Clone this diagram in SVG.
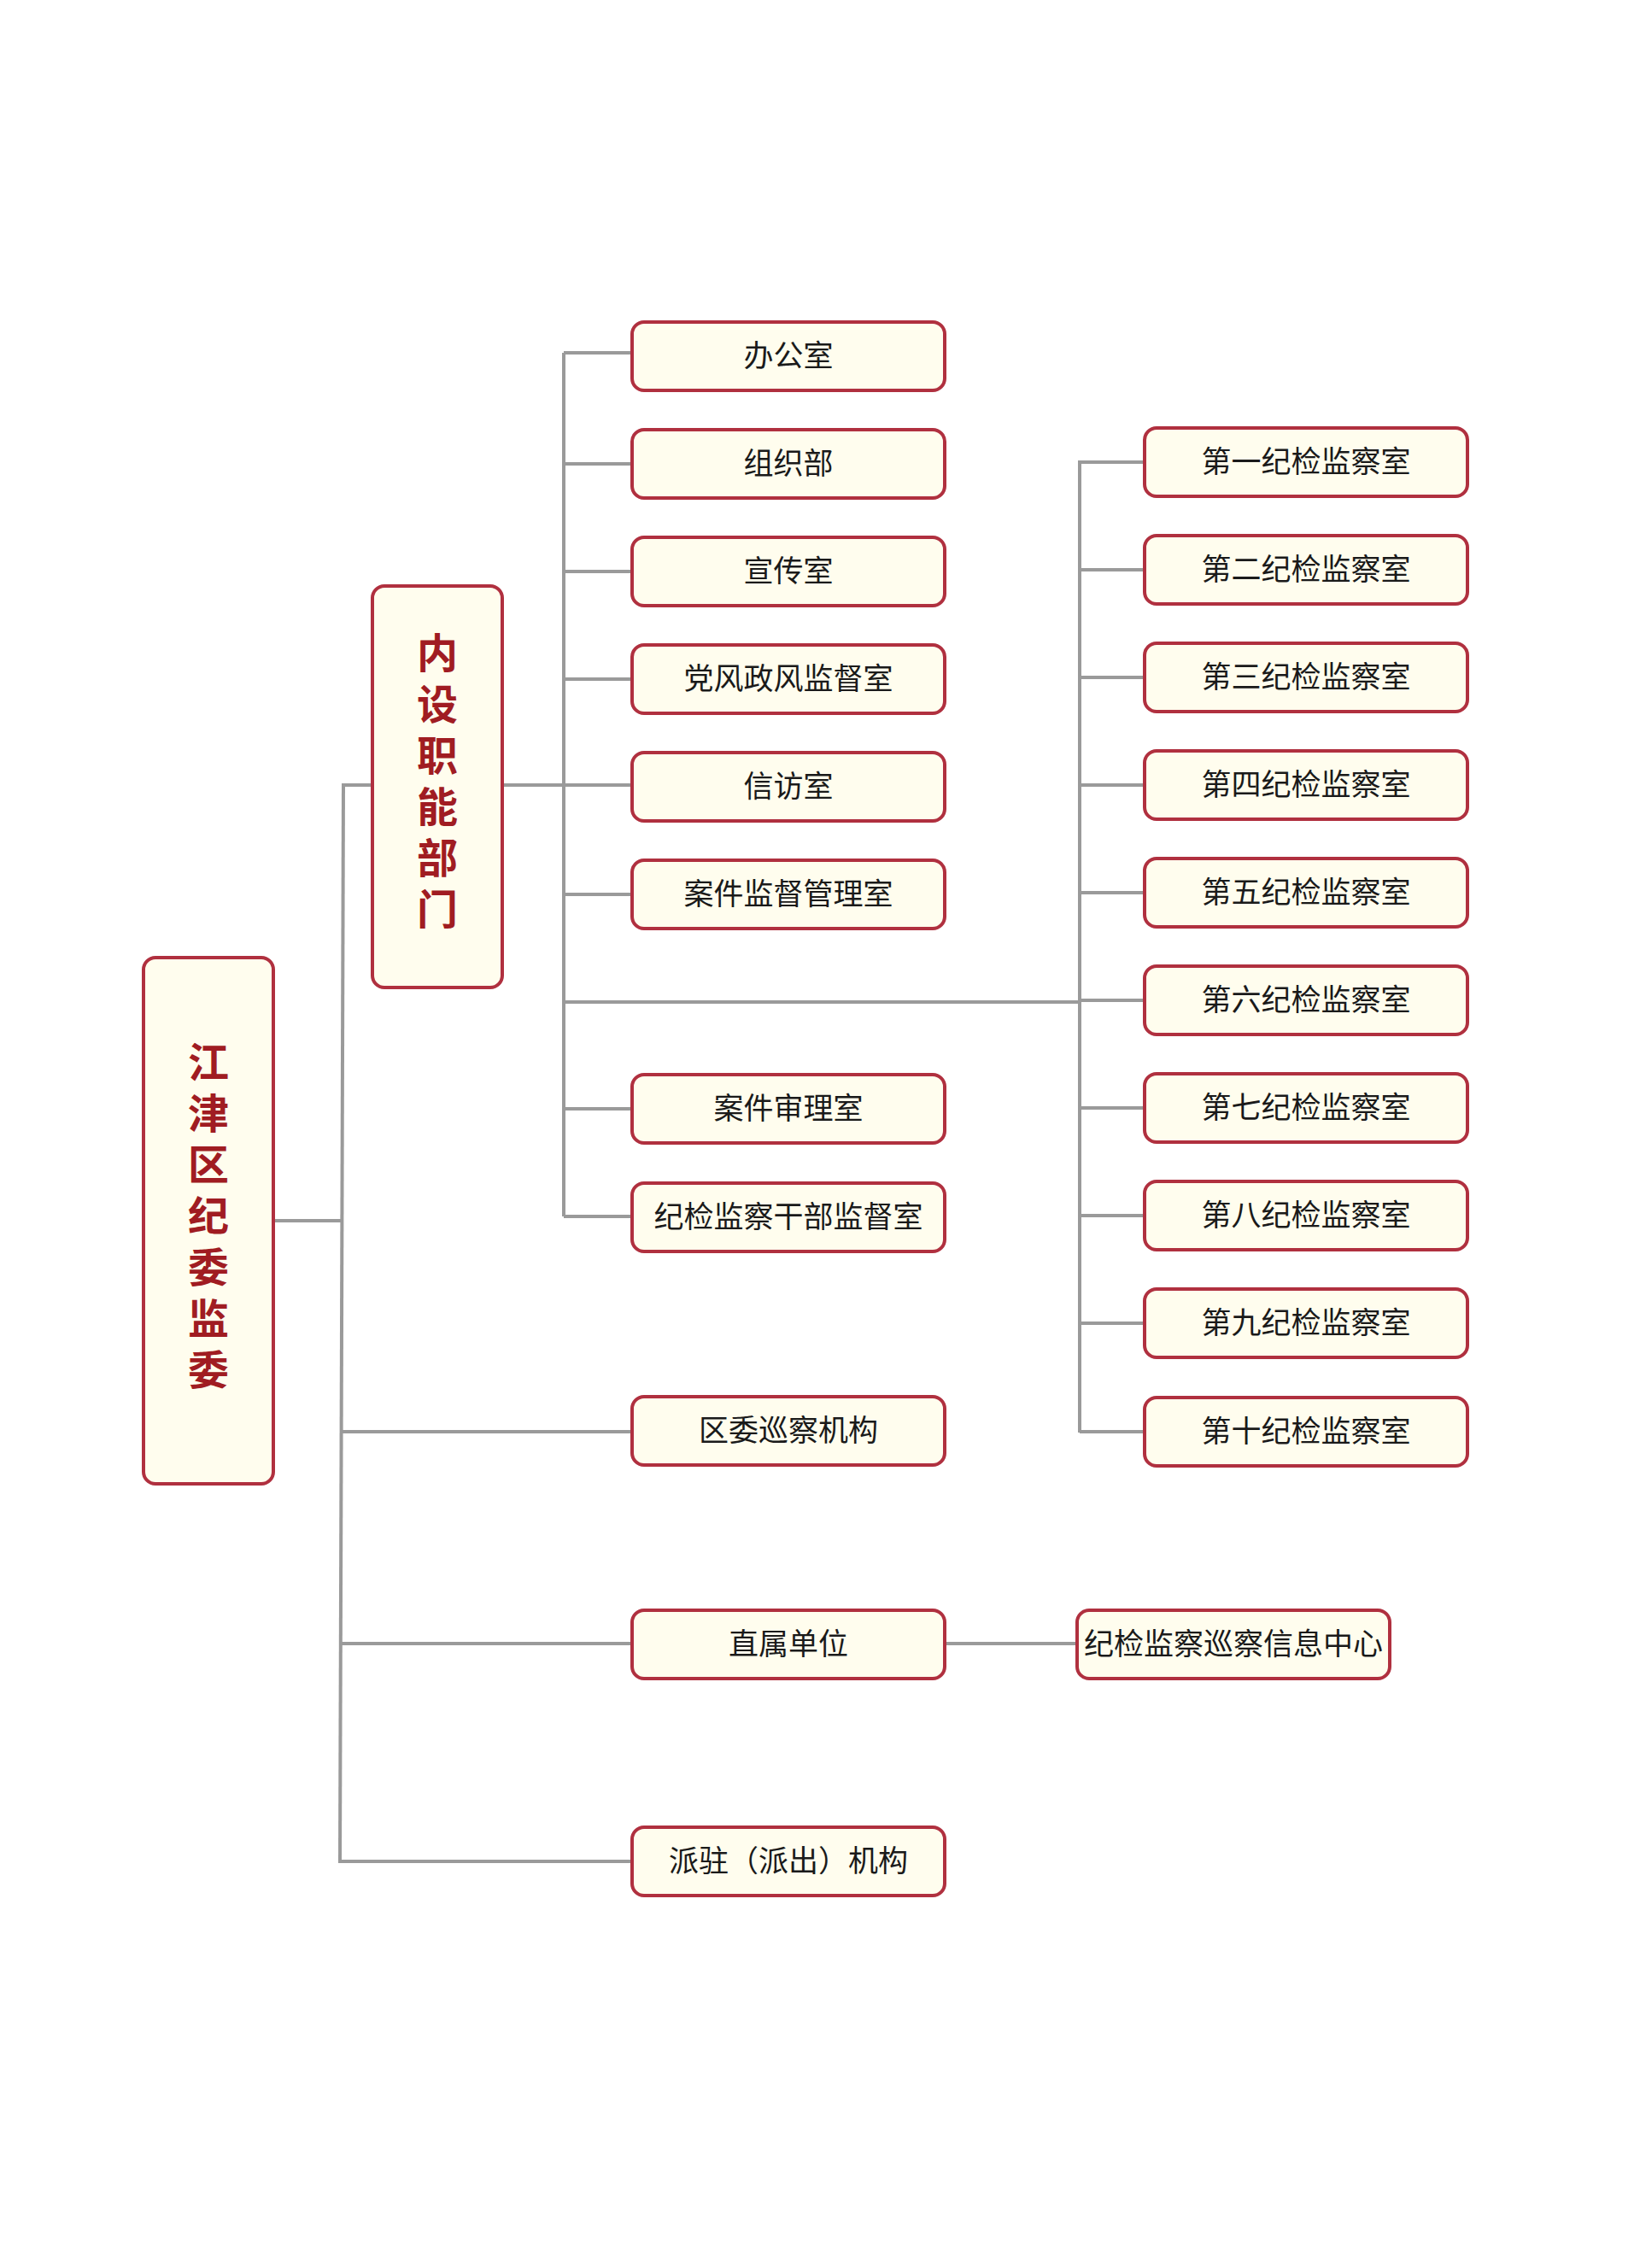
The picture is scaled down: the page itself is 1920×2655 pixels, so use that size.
<svg xmlns="http://www.w3.org/2000/svg" width="1920" height="2655" viewBox="0 0 1920 2655">
<style>
.box{fill:#fffdee;stroke:#b0303f;stroke-width:4}
.t{font-family:"Noto Sans CJK SC","Noto Sans",sans-serif;font-size:35px;fill:#1a1a1a;text-anchor:middle;dominant-baseline:central}
.v{font-family:"Noto Sans CJK SC","Noto Sans",sans-serif;font-size:48px;font-weight:bold;fill:#a01c22;writing-mode:vertical-rl;letter-spacing:12px}
.c{fill:none;stroke:#9a9a9a;stroke-width:4}
</style>
<rect width="1920" height="2655" fill="#ffffff"/>
<g id="connectors" class="c">
<path d="M320 1429H400"/>
<path d="M402 919L398 2181"/>
<path d="M400 919H436"/>
<path d="M588 919H740"/>
<path d="M660 413V1424"/>
<path d="M660 413H740M660 543H740M660 669H740M660 795H740M660 1047H740M660 1298H740M660 1424H740"/>
<path d="M660 1173H1264"/>
<path d="M1264 539V1677"/>
<path d="M1264 541H1340M1264 667H1340M1264 793H1340M1264 919H1340M1264 1045H1340M1264 1171H1340M1264 1297H1340M1264 1423H1340M1264 1549H1340M1264 1676H1340"/>
<path d="M400 1676H740M400 1924H740M398 2179H740"/>
<path d="M1107 1924H1261"/>
</g>
<g id="n-root"><rect class="box" x="168" y="1121" width="152" height="616" rx="14"/>
<text class="v" x="244" y="1219">江津区纪委监委</text></g>
<g id="n-neishe"><rect class="box" x="436" y="686" width="152" height="470" rx="14"/>
<text class="v" x="512" y="740">内设职能部门</text></g>
<g id="n-bgs"><rect class="box" x="740" y="377" width="366" height="80" rx="14"/><text class="t" x="923" y="413">办公室</text></g>
<g id="n-zzb"><rect class="box" x="740" y="503" width="366" height="80" rx="14"/><text class="t" x="923" y="539">组织部</text></g>
<g id="n-xcs"><rect class="box" x="740" y="629" width="366" height="80" rx="14"/><text class="t" x="923" y="665">宣传室</text></g>
<g id="n-dfzf"><rect class="box" x="740" y="755" width="366" height="80" rx="14"/><text class="t" x="923" y="791">党风政风监督室</text></g>
<g id="n-xfs"><rect class="box" x="740" y="881" width="366" height="80" rx="14"/><text class="t" x="923" y="917">信访室</text></g>
<g id="n-ajjd"><rect class="box" x="740" y="1007" width="366" height="80" rx="14"/><text class="t" x="923" y="1043">案件监督管理室</text></g>
<g id="n-ajsl"><rect class="box" x="740" y="1258" width="366" height="80" rx="14"/><text class="t" x="923" y="1294">案件审理室</text></g>
<g id="n-gbjd"><rect class="box" x="740" y="1385" width="366" height="80" rx="14"/><text class="t" x="923" y="1421">纪检监察干部监督室</text></g>
<g id="n-xcjg"><rect class="box" x="740" y="1635" width="366" height="80" rx="14"/><text class="t" x="923" y="1671">区委巡察机构</text></g>
<g id="n-zsdw"><rect class="box" x="740" y="1885" width="366" height="80" rx="14"/><text class="t" x="923" y="1921">直属单位</text></g>
<g id="n-pz"><rect class="box" x="740" y="2139" width="366" height="80" rx="14"/><text class="t" x="923" y="2175">派驻（派出）机构</text></g>
<g id="n-xxzx"><rect class="box" x="1261" y="1885" width="366" height="80" rx="14"/><text class="t" x="1444" y="1921">纪检监察巡察信息中心</text></g>
<g id="n-s1"><rect class="box" x="1340" y="501" width="378" height="80" rx="14"/><text class="t" x="1529" y="537">第一纪检监察室</text></g>
<g id="n-s2"><rect class="box" x="1340" y="627" width="378" height="80" rx="14"/><text class="t" x="1529" y="663">第二纪检监察室</text></g>
<g id="n-s3"><rect class="box" x="1340" y="753" width="378" height="80" rx="14"/><text class="t" x="1529" y="789">第三纪检监察室</text></g>
<g id="n-s4"><rect class="box" x="1340" y="879" width="378" height="80" rx="14"/><text class="t" x="1529" y="915">第四纪检监察室</text></g>
<g id="n-s5"><rect class="box" x="1340" y="1005" width="378" height="80" rx="14"/><text class="t" x="1529" y="1041">第五纪检监察室</text></g>
<g id="n-s6"><rect class="box" x="1340" y="1131" width="378" height="80" rx="14"/><text class="t" x="1529" y="1167">第六纪检监察室</text></g>
<g id="n-s7"><rect class="box" x="1340" y="1257" width="378" height="80" rx="14"/><text class="t" x="1529" y="1293">第七纪检监察室</text></g>
<g id="n-s8"><rect class="box" x="1340" y="1383" width="378" height="80" rx="14"/><text class="t" x="1529" y="1419">第八纪检监察室</text></g>
<g id="n-s9"><rect class="box" x="1340" y="1509" width="378" height="80" rx="14"/><text class="t" x="1529" y="1545">第九纪检监察室</text></g>
<g id="n-s10"><rect class="box" x="1340" y="1636" width="378" height="80" rx="14"/><text class="t" x="1529" y="1672">第十纪检监察室</text></g>
</svg>
